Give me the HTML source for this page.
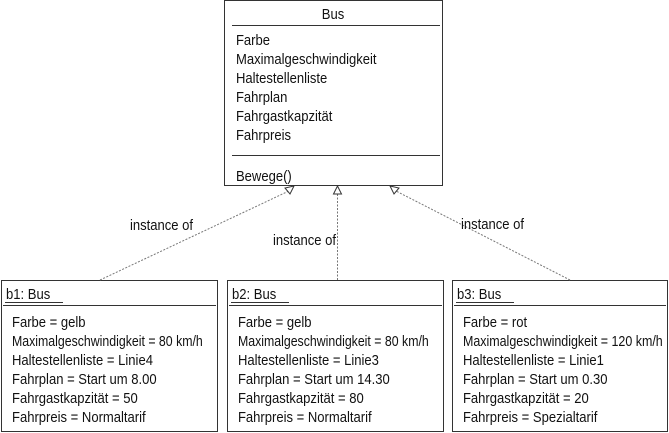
<!DOCTYPE html>
<html><head><meta charset="utf-8"><style>
html,body{margin:0;padding:0;background:#fff;}
svg{display:block;}
text{font-family:"Liberation Sans",sans-serif;font-size:14.5px;fill:#111;}
</style></head><body>
<svg width="669" height="433" viewBox="0 0 669 433" xmlns="http://www.w3.org/2000/svg">
<g fill="none" stroke="#333" stroke-width="1">
<rect x="224.5" y="0.5" width="218" height="185"/>
<line x1="232" y1="25.5" x2="440" y2="25.5"/>
<line x1="232" y1="155.5" x2="440" y2="155.5"/>
<rect x="1.5" y="280.5" width="216" height="151"/>
<rect x="227.5" y="280.5" width="216" height="151"/>
<rect x="452.5" y="280.5" width="215" height="151"/>
<line x1="3" y1="305.5" x2="216" y2="305.5"/>
<line x1="229" y1="305.5" x2="442" y2="305.5"/>
<line x1="454" y1="305.5" x2="666" y2="305.5"/>
<line x1="5" y1="302.5" x2="63" y2="302.5"/>
<line x1="231" y1="302.5" x2="289" y2="302.5"/>
<line x1="456" y1="302.5" x2="514" y2="302.5"/>
</g>
<g stroke="#777" stroke-width="1" stroke-dasharray="2,1.5" fill="none">
<line x1="100" y1="280" x2="291" y2="190"/>
<line x1="337.5" y1="280" x2="337.5" y2="194"/>
<line x1="570" y1="280" x2="394" y2="190"/>
</g>
<g stroke="#333" stroke-width="1" fill="#fff">
<polygon points="294,186 285,188 290,194"/>
<polygon points="337.5,186 333.5,194 341.5,194"/>
<polygon points="390,186 399,188 394,194"/>
</g>
<g transform="scale(0.9,1)">
<text x="370" y="19" text-anchor="middle">Bus</text>
<text x="262.2" y="45">Farbe</text>
<text x="262.2" y="64">Maximalgeschwindigkeit</text>
<text x="262.2" y="83">Haltestellenliste</text>
<text x="262.2" y="102">Fahrplan</text>
<text x="262.2" y="121">Fahrgastkapzität</text>
<text x="262.2" y="140">Fahrpreis</text>
<text x="262.2" y="181">Bewege()</text>
<text x="144.4" y="230">instance of</text>
<text x="303.3" y="245">instance of</text>
<text x="512.2" y="229">instance of</text>

<text x="6.67" y="299">b1: Bus</text>
<text x="13.33" y="327">Farbe = gelb</text>
<text x="13.33" y="346" textLength="212" lengthAdjust="spacingAndGlyphs">Maximalgeschwindigkeit = 80 km/h</text>
<text x="13.33" y="365">Haltestellenliste = Linie4</text>
<text x="13.33" y="384">Fahrplan = Start um 8.00</text>
<text x="13.33" y="403">Fahrgastkapzität = 50</text>
<text x="13.33" y="422">Fahrpreis = Normaltarif</text>

<text x="257.8" y="299">b2: Bus</text>
<text x="264.4" y="327">Farbe = gelb</text>
<text x="264.4" y="346" textLength="212" lengthAdjust="spacingAndGlyphs">Maximalgeschwindigkeit = 80 km/h</text>
<text x="264.4" y="365">Haltestellenliste = Linie3</text>
<text x="264.4" y="384">Fahrplan = Start um 14.30</text>
<text x="264.4" y="403">Fahrgastkapzität = 80</text>
<text x="264.4" y="422">Fahrpreis = Normaltarif</text>

<text x="507.8" y="299">b3: Bus</text>
<text x="514.4" y="327">Farbe = rot</text>
<text x="514.4" y="346" textLength="222" lengthAdjust="spacingAndGlyphs">Maximalgeschwindigkeit = 120 km/h</text>
<text x="514.4" y="365">Haltestellenliste = Linie1</text>
<text x="514.4" y="384">Fahrplan = Start um 0.30</text>
<text x="514.4" y="403">Fahrgastkapzität = 20</text>
<text x="514.4" y="422">Fahrpreis = Spezialtarif</text>
</g>
</svg>
</body></html>
